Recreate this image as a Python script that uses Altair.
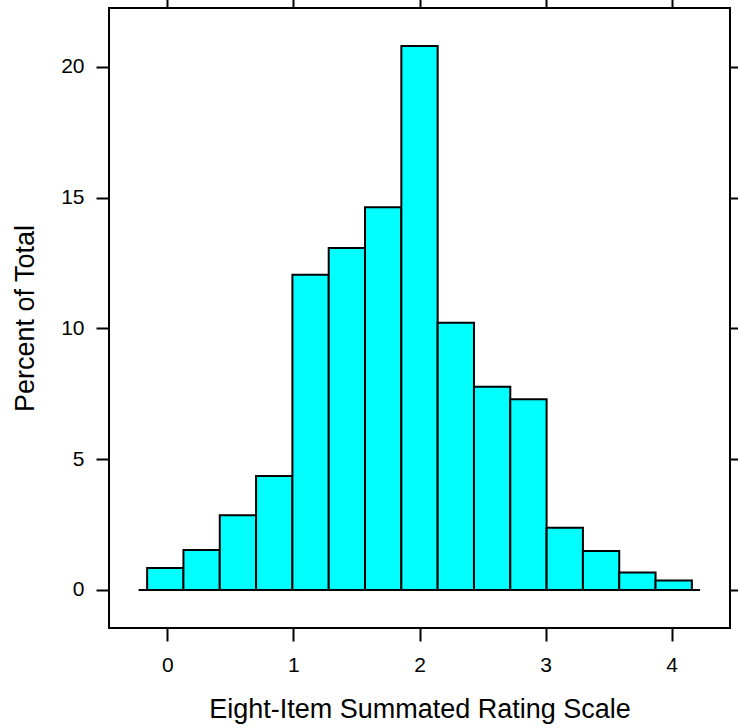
import altair as alt
import pandas as pd

bin_start = [-0.16, 0.128, 0.416, 0.704, 0.992, 1.28, 1.568, 1.856, 2.144, 2.432, 2.72, 3.008, 3.296, 3.584, 3.872]
bin_end = [0.128, 0.416, 0.704, 0.992, 1.28, 1.568, 1.856, 2.144, 2.432, 2.72, 3.008, 3.296, 3.584, 3.872, 4.16]
percent = [0.84, 1.53, 2.86, 4.36, 12.05, 13.08, 14.64, 20.8, 10.22, 7.77, 7.29, 2.38, 1.49, 0.67, 0.36]
x_ticks = [0, 1, 2, 3, 4]
y_ticks = [0, 5, 10, 15, 20]
baseline_x = [-0.228, 4.225]

df = pd.DataFrame({"start": bin_start, "end": bin_end, "pct": percent})
base_df = pd.DataFrame({"x1": [baseline_x[0]], "x2": [baseline_x[1]], "y": [0]})

FONT = "Liberation Sans"
xscale = alt.Scale(domain=[-0.4624, 4.4624], nice=False, zero=False)
yscale = alt.Scale(domain=[-1.456, 22.256], nice=False, zero=False)

tick_axis = dict(domain=False, grid=False, tickSize=13, tickWidth=2, tickColor="black")
text_axis = dict(
    labelFont=FONT, labelFontSize=21, labelColor="black",
    titleFont=FONT, titleFontSize=27, titleColor="black", titleFontWeight="normal",
)

bars = alt.Chart(df).mark_rect(fill="#00FFFF", stroke="black", strokeWidth=2).encode(
    x=alt.X("start:Q", scale=xscale,
            axis=alt.Axis(values=x_ticks, orient="bottom", title="Eight-Item Summated Rating Scale",
                          labelPadding=13, titleBaseline="alphabetic", titleY=89,
                          **tick_axis, **text_axis)),
    x2="end:Q",
    y=alt.Y("pct:Q", scale=yscale,
            axis=alt.Axis(values=y_ticks, orient="left", title="Percent of Total",
                          labelPadding=12, titleBaseline="alphabetic", titleX=-76, titleAngle=-90,
                          **tick_axis, **text_axis)),
    y2=alt.datum(0),
)

baseline = alt.Chart(base_df).mark_rule(color="black", strokeWidth=2).encode(
    x=alt.X("x1:Q", scale=xscale,
            axis=alt.Axis(values=x_ticks, orient="top", labels=False, title=None, **tick_axis)),
    x2="x2:Q",
    y=alt.Y("y:Q", scale=yscale,
            axis=alt.Axis(values=y_ticks, orient="right", labels=False, title=None, **tick_axis)),
)

chart = alt.layer(bars, baseline).resolve_axis(x="independent", y="independent").properties(
    width=621, height=620,
    background="white",
    autosize=alt.AutoSizeParams(type="none"),
    padding={"left": 109, "top": 8, "right": 8, "bottom": 100},
).configure_view(stroke="black", strokeWidth=2)

chart.save("out.html", embed_options={"renderer": "svg", "actions": False})
